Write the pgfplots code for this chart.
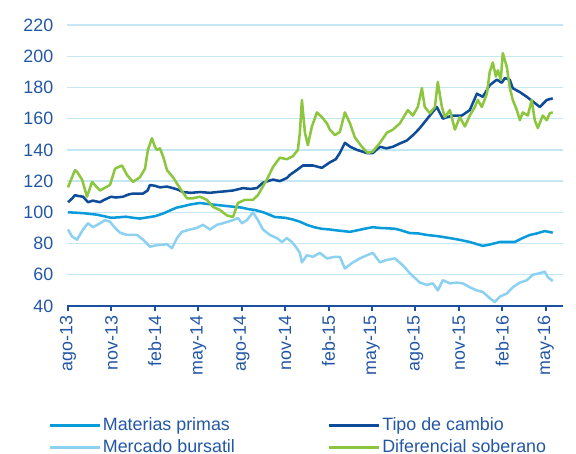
\documentclass[border=0pt]{standalone}
\usepackage{fontspec}
\setmainfont{Liberation Sans}
\usepackage{pgfplots}
\pgfplotsset{compat=1.18}
\definecolor{txtblue}{RGB}{35,87,166}
\definecolor{axblue}{RGB}{27,79,160}
\definecolor{gridblue}{RGB}{197,230,243}
\definecolor{matcol}{RGB}{10,155,219}
\definecolor{tipcol}{RGB}{14,76,154}
\definecolor{mercol}{RGB}{141,209,241}
\definecolor{difcol}{RGB}{140,198,62}
\newcommand{\lblfont}{\fontsize{13.4pt}{16pt}\selectfont}
\begin{document}
\begin{tikzpicture}
\path[use as bounding box] (0,0) rectangle (432pt,340.5pt);
\begin{axis}[
  at={(50.25pt,111pt)}, anchor=south west,
  scale only axis, width=372pt, height=210.75pt,
  xmin=-0.07, xmax=34.2, ymin=40, ymax=220,
  axis x line*=bottom, axis y line*=left,
  y axis line style={draw=none},
  x axis line style={axblue, line width=2.2pt},
  ytick={40,60,...,220},
  ytick style={draw=none},
  xtick={0,3,...,33},
  xticklabels={ago-13,nov-13,feb-14,may-14,ago-14,nov-14,feb-15,may-15,ago-15,nov-15,feb-16,may-16},
  xtick style={axblue, line width=1.5pt},
  tick align=outside, major tick length=3.75pt,
  xticklabel style={rotate=90, anchor=east},
  yticklabel style={xshift=-3pt},
  every tick label/.append style={font=\lblfont, text=txtblue},
  /pgf/number format/assume math mode=true,
  ymajorgrids, grid style={gridblue, line width=1pt},
  legend columns=2,
  legend cell align=left,
  legend image code/.code={\draw[#1] (0pt,0pt) -- (37.5pt,0pt);},
  legend style={draw=none, fill=none, at={(-0.0383,-0.386)}, anchor=north west,
    font=\lblfont, text=txtblue, inner sep=0pt, row sep=0pt,
    nodes={inner sep=1.55pt, text height=10pt, text depth=3.3pt},
    /tikz/every even column/.append style={column sep=68pt}},
  every axis plot/.append style={line width=1.9pt, line join=round},
]
\addplot[matcol] coordinates {
(0,100) (0.5,99.8) (1.0,99.5) (1.5,99) (2.0,98.5) (2.5,97.5) (2.97,96.5) (3.5,96.8) (4.0,97.2) (4.5,96.5) (4.97,96) (5.3,96.5) (5.66,97) (6.0,97.5) (6.5,99) (7.0,101) (7.5,103) (8.0,104) (8.43,105) (9.12,106) (9.5,105.5) (10.0,105) (10.5,104.5) (11.0,104) (11.5,103.5) (12.02,103) (12.5,102) (12.91,101.5) (13.5,100) (14.3,97) (15.0,96.5) (15.5,95.5) (16.02,94) (16.5,92) (17.0,90.5) (17.5,89.5) (18.09,89) (18.5,88.5) (19.0,88) (19.48,87.5) (20.0,88.5) (20.5,89.5) (21.06,90.5) (21.5,90) (22.0,89.8) (22.58,89.5) (23.0,88.5) (23.62,86.7) (24.2,86.5) (24.79,85.5) (25.5,84.8) (26.38,83.5) (27.0,82.5) (27.76,81) (28.3,79.5) (28.66,78.5) (29.2,79.5) (29.83,81) (30.5,81) (30.87,81) (31.4,83.5) (31.91,85.5) (32.4,86.5) (32.94,88) (33.2,87.5) (33.49,87)
};
\addlegendentry{Materias primas}
\addplot[tipcol] coordinates {
(0,106.5) (0.3,109) (0.48,111) (0.7,110.5) (1.04,110) (1.38,106.5) (1.7,107.5) (2.21,106.5) (2.5,108) (2.97,110) (3.3,109.5) (3.8,110) (4.2,111.5) (4.49,112) (5.18,112) (5.5,114) (5.66,117.5) (6.0,117) (6.35,116) (6.84,116.5) (7.25,115.5) (7.6,114.5) (7.94,113) (8.5,112.5) (9.12,113) (9.8,112.5) (10.29,113) (10.9,113.5) (11.4,114) (12.09,115.5) (12.6,115) (13.05,115.5) (13.47,119) (14.16,121) (14.64,120) (15.12,122) (15.33,124) (15.8,127) (16.23,130) (16.92,130) (17.54,128.5) (18.09,132) (18.5,134) (18.78,138) (19.13,144.5) (19.5,142) (19.96,140) (20.65,138) (21.06,138) (21.55,142) (22.0,141) (22.45,142) (22.9,144) (23.41,146) (23.9,150) (24.31,154) (25.0,162) (25.48,167.5) (25.9,160) (26.2,161) (26.59,162) (27.21,162) (27.76,165.5) (28.25,176) (28.66,174) (29.14,181.5) (29.63,185) (29.97,183) (30.18,186) (30.52,185) (30.73,179.5) (31.22,177) (31.7,174) (32.11,171) (32.6,167.5) (33.08,172) (33.49,173)
};
\addlegendentry{Tipo de cambio}
\addplot[mercol] coordinates {
(0,89) (0.28,84.5) (0.62,82.5) (1.04,89) (1.38,93) (1.73,90.5) (2.21,93) (2.56,95) (2.9,94) (3.25,90) (3.59,87) (4.07,85.5) (4.77,85.5) (5.18,82.5) (5.66,78) (6.15,79) (6.84,79.5) (7.18,77) (7.53,83.5) (7.87,87.5) (8.43,89) (8.91,90) (9.32,92) (9.81,89) (10.29,92) (10.7,93) (11.4,95) (11.74,96.4) (12.02,93) (12.36,95) (12.78,100) (13.12,95) (13.47,89) (13.95,85.5) (14.43,83.5) (14.78,81) (15.12,83.5) (15.47,81) (15.81,77) (16.02,74) (16.16,68) (16.51,72.5) (16.92,71.5) (17.4,74) (17.89,70.5) (18.44,71.5) (18.78,71.5) (19.13,64) (19.61,67.5) (20.17,70.5) (20.65,72.5) (21.06,74) (21.55,68) (22.03,69.5) (22.58,70.5) (23.14,66) (23.62,61) (24.31,55) (24.79,53.5) (25.21,54.5) (25.55,50) (25.9,56.5) (26.38,54.5) (26.86,55) (27.28,54.5) (27.76,52) (28.25,50) (28.66,49) (29.14,45) (29.49,42.5) (29.83,46) (30.32,48) (30.73,52) (31.22,55) (31.7,56.5) (32.11,60) (32.6,61) (32.94,62) (33.15,58.5) (33.49,56)
};
\addlegendentry{Mercado bursatil}
\addplot[difcol] coordinates {
(0,116) (0.28,122.5) (0.48,127) (0.62,126) (0.97,121) (1.31,110) (1.66,119.5) (2.0,116) (2.21,114) (2.9,117.5) (3.25,128) (3.73,130) (4.07,124) (4.49,119.5) (4.97,122.5) (5.32,128) (5.52,140) (5.8,147.5) (6.0,142) (6.15,140) (6.35,141) (6.6,135) (6.84,127) (7.25,122.5) (7.73,115.5) (8.22,109) (8.63,109) (9.12,110) (9.6,108) (10.01,103.5) (10.5,101.5) (10.98,98) (11.4,97) (11.74,106) (12.22,108) (12.78,108) (13.12,111) (13.74,121) (14.16,129) (14.64,135) (15.12,134) (15.54,136) (15.88,140) (16.02,151) (16.16,172) (16.37,151) (16.57,143) (16.85,155) (17.2,164) (17.54,161) (17.89,157) (18.09,153) (18.44,149.5) (18.78,151.5) (19.13,164) (19.48,157) (19.82,148) (20.3,142) (20.72,138) (21.06,139) (21.55,144.5) (22.03,151) (22.45,153) (22.93,157) (23.48,165.5) (23.83,162) (24.17,167.5) (24.45,179.5) (24.65,167.5) (25.0,163.5) (25.35,167.5) (25.55,183.5) (25.83,167.5) (26.04,161) (26.38,165.5) (26.73,153) (27.07,161) (27.42,155) (27.76,162) (28.11,167.5) (28.31,172) (28.59,167.5) (28.94,176) (29.14,190) (29.35,196) (29.56,187) (29.7,191) (29.9,185) (30.04,202) (30.32,193) (30.52,180) (30.73,172) (31.01,165.5) (31.22,159) (31.42,164) (31.77,162) (32.04,172) (32.25,159) (32.46,154) (32.8,162) (33.08,159) (33.29,163.5) (33.49,164)
};
\addlegendentry{Diferencial soberano}
\end{axis}
\end{tikzpicture}
\end{document}
